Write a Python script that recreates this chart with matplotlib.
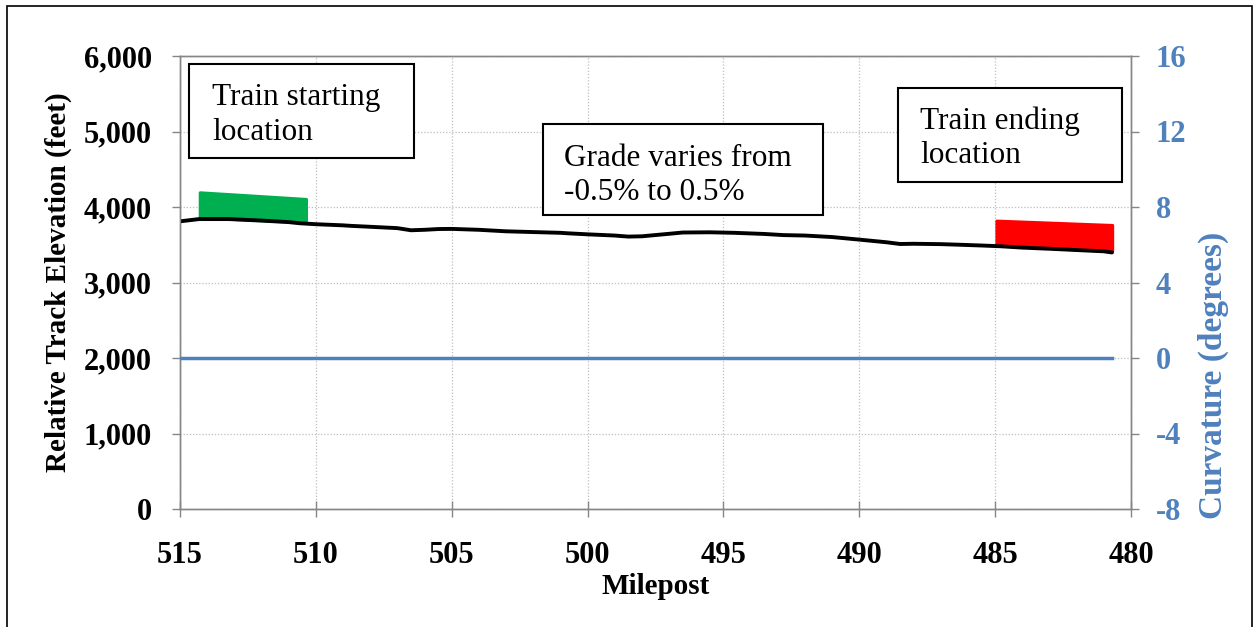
import matplotlib
matplotlib.use("Agg")
import matplotlib.pyplot as plt
from matplotlib.patches import Polygon, Rectangle
from matplotlib.ticker import FuncFormatter

# ---------------- data ----------------
elev_milepost = [515.0, 514.3, 513.2, 512.0, 511.0, 510.6, 510.0, 509.0, 508.7, 508.0,
                 507.0, 506.5, 506.0, 505.5, 505.0, 504.0, 503.0, 502.0, 501.0, 500.75,
                 500.0, 499.0, 498.5, 498.0, 497.0, 496.5, 495.5, 494.6, 493.5, 492.8,
                 492.0, 491.0, 490.0, 489.0, 488.5, 488.0, 487.0, 486.3, 485.5, 484.8,
                 484.0, 483.0, 481.9, 481.0, 480.7]
elevation_ft = [3810, 3840, 3840, 3820, 3800, 3785, 3772, 3757, 3750, 3738,
                3720, 3692, 3698, 3708, 3710, 3698, 3678, 3668, 3658, 3652,
                3638, 3622, 3608, 3612, 3645, 3662, 3665, 3658, 3643, 3628,
                3622, 3602, 3568, 3533, 3510, 3513, 3508, 3500, 3490, 3480,
                3462, 3447, 3428, 3413, 3398]

curv_milepost = [515.0, 480.7]
curvature_deg = [0, 0]

# train start (green) and end (red) markers: (milepost, elevation)
start_train = [(514.26, 4190), (510.34, 4102), (510.34, 3788), (514.26, 3854)]
end_train = [(484.94, 3815), (480.67, 3757), (480.67, 3408), (484.94, 3483)]

x_ticks = [515, 510, 505, 500, 495, 490, 485, 480]
y_ticks = [0, 1000, 2000, 3000, 4000, 5000, 6000]
y2_ticks = [-8, -4, 0, 4, 8, 12, 16]

box_texts = ["Train starting\nlocation", "Grade varies from\n-0.5% to 0.5%", "Train ending\nlocation"]

# ---------------- style ----------------
plt.rcParams['font.family'] = ['Liberation Serif', 'DejaVu Serif']
plt.rcParams['axes.unicode_minus'] = False
W, H = 1254, 627
fig = plt.figure(figsize=(W / 100, H / 100), dpi=100)

def fx(px):
    return px / W

def fy(py):
    return 1 - py / H

ax = fig.add_axes([fx(180), fy(509), fx(1131) - fx(180), fy(56) - fy(509)])
ax2 = ax.twinx()

BLUE = '#4F81BD'
SPINE = '#868686'

ax.set_xlim(515, 480)
ax.set_ylim(0, 6000)
ax2.set_ylim(-8, 16)

ax.grid(True, which='major', color='#bfbfbf', linestyle=(0, (1, 1.5)), linewidth=0.9)
ax.set_axisbelow(True)
ax.set_xticks(x_ticks)
ax.set_yticks(y_ticks)
ax2.set_yticks(y2_ticks)
ax.yaxis.set_major_formatter(FuncFormatter(lambda v, p: f"{int(v):,}"))

for a in (ax, ax2):
    for s in a.spines.values():
        s.set_color(SPINE)
        s.set_linewidth(1.0)

ax.tick_params(axis='y', direction='out', length=6, width=1, color=SPINE, pad=14,
               labelsize=22)
ax.tick_params(axis='x', direction='inout', length=12, width=1, color=SPINE, pad=17,
               labelsize=22)
ax2.tick_params(axis='y', direction='out', length=6, width=1, color=SPINE, pad=12,
                labelsize=22, labelcolor=BLUE)
for lab in ax.get_xticklabels() + ax.get_yticklabels():
    lab.set_fontweight('bold')
for lab in ax2.get_yticklabels():
    lab.set_fontweight('bold')

ax.set_xlabel('Milepost', fontsize=21, fontweight='bold', labelpad=2)
ax.set_ylabel('Relative Track Elevation (feet)', fontsize=21, fontweight='bold')
ax.yaxis.set_label_coords((72 - 180) / 951, 0.5)
ax2.set_ylabel('Curvature (degrees)', fontsize=24, fontweight='bold', color=BLUE)
ax2.yaxis.set_label_coords((1198 - 180) / 951, (509 - 375) / 453)

# ---------------- marks ----------------
ax.add_patch(Polygon(start_train, closed=True, facecolor='#00B050', edgecolor='#00B050',
                     linewidth=2, joinstyle='round', zorder=3))
ax.add_patch(Polygon(end_train, closed=True, facecolor='#FF0000', edgecolor='#FF0000',
                     linewidth=2, joinstyle='round', zorder=3))
ax.plot(elev_milepost, elevation_ft, color='black', linewidth=2.8, zorder=4,
        solid_capstyle='round', solid_joinstyle='round')
ax2.plot(curv_milepost, curvature_deg, color=BLUE, linewidth=2.5, zorder=4)

# ---------------- annotation boxes ----------------
# (box left, top, right, bottom) in pixels, text left and last-line baseline
boxes = [((189, 64, 414, 158), (212, 140)),
         ((543, 124, 823, 215), (564, 200)),
         ((898, 88, 1122, 182), (920, 163))]
for ((x0, y0, x1, y1), (tx, ty)), txt in zip(boxes, box_texts):
    fig.patches.append(Rectangle((fx(x0), fy(y1)), fx(x1) - fx(x0), fy(y0) - fy(y1),
                                 transform=fig.transFigure, facecolor='white',
                                 edgecolor='black', linewidth=1.5, zorder=10))
    fig.text(fx(tx), fy(ty), txt, fontsize=22.5, va='baseline', ha='left',
             linespacing=1.25, zorder=11)

# figure border
fig.patches.append(Rectangle((fx(7), -0.05), fx(1252) - fx(7), fy(6) + 0.05,
                             transform=fig.transFigure, fill=False,
                             edgecolor='black', linewidth=1.2, zorder=20))

fig.savefig('out.png', dpi=100)
